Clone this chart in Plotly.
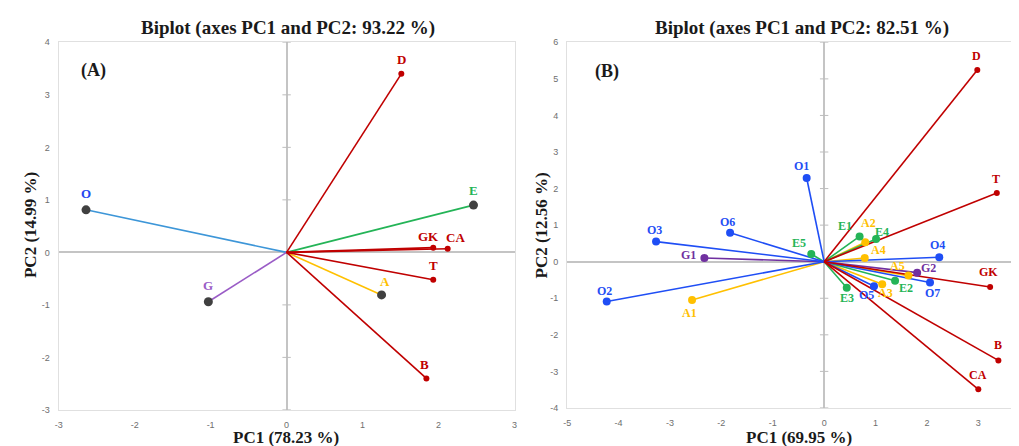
import plotly.graph_objects as go

W, H = 1019, 446

# ---------------- Panel A data ----------------
a_vars = ["D", "GK", "CA", "T", "B"]
a_var_x = [1.51, 1.93, 2.12, 1.93, 1.84]
a_var_y = [3.40, 0.09, 0.07, -0.52, -2.40]

a_obs = ["O", "E", "A", "G"]
a_obs_x = [-2.64, 2.46, 1.25, -1.03]
a_obs_y = [0.81, 0.90, -0.81, -0.94]

a_ticks_x = [-3, -2, -1, 0, 1, 2, 3]
a_ticks_y = [-3, -2, -1, 0, 1, 2, 3, 4]

# ---------------- Panel B data ----------------
b_vars = ["D", "T", "GK", "B", "CA"]
b_var_x = [2.98, 3.36, 3.23, 3.39, 3.00]
b_var_y = [5.24, 1.88, -0.69, -2.70, -3.49]

b_O = ["O1", "O2", "O3", "O4", "O5", "O6", "O7"]
b_O_x = [-0.34, -4.23, -3.27, 2.24, 0.97, -1.83, 2.06]
b_O_y = [2.29, -1.09, 0.55, 0.12, -0.67, 0.79, -0.57]

b_G = ["G1", "G2"]
b_G_x = [-2.33, 1.81]
b_G_y = [0.10, -0.30]

b_A = ["A1", "A2", "A3", "A4", "A5"]
b_A_x = [-2.57, 0.80, 1.13, 0.79, 1.64]
b_A_y = [-1.05, 0.53, -0.62, 0.10, -0.38]

b_E = ["E1", "E2", "E3", "E4", "E5"]
b_E_x = [0.69, 1.38, 0.44, 1.01, -0.25]
b_E_y = [0.69, -0.52, -0.71, 0.62, 0.21]

b_ticks_x = [-5, -4, -3, -2, -1, 0, 1, 2, 3]
b_ticks_y = [-4, -3, -2, -1, 0, 1, 2, 3, 4, 5, 6]

RED = "#c00000"
BLUE = "#1f4ef5"
LBLUE = "#3d96d8"
GREEN = "#24b457"
YELLOW = "#ffc000"
PURPLE = "#7030a0"
GRAY = "#404040"

SERIF = "Liberation Serif"

fig = go.Figure()


def rays(xs, ys):
    X, Y = [], []
    for x, y in zip(xs, ys):
        X += [0, x, None]
        Y += [0, y, None]
    return X, Y


def add_rays(xs, ys, color, xa, ya, width=1.6):
    X, Y = rays(xs, ys)
    fig.add_trace(go.Scatter(x=X, y=Y, mode="lines", line=dict(color=color, width=width),
                             xaxis=xa, yaxis=ya, showlegend=False, hoverinfo="skip"))


def add_pts(xs, ys, color, size, xa, ya):
    fig.add_trace(go.Scatter(x=xs, y=ys, mode="markers",
                             marker=dict(color=color, size=size, line=dict(width=0)),
                             xaxis=xa, yaxis=ya, showlegend=False))


def add_zero_ticks(ticks, xa, ya):
    t = [v for v in ticks if v != 0]
    fig.add_trace(go.Scatter(x=[0] * len(t), y=t, mode="markers",
                             marker=dict(symbol="line-ew", size=6, line=dict(color="#bdbdbd", width=1)),
                             xaxis=xa, yaxis=ya, showlegend=False, hoverinfo="skip"))


# ---- Panel A ----
add_zero_ticks(a_ticks_y, "x", "y")
add_rays(a_obs_x[:1], a_obs_y[:1], LBLUE, "x", "y")
add_rays(a_obs_x[1:2], a_obs_y[1:2], GREEN, "x", "y")
add_rays(a_obs_x[2:3], a_obs_y[2:3], YELLOW, "x", "y")
add_rays(a_obs_x[3:4], a_obs_y[3:4], "#9a5cc6", "x", "y")
add_rays(a_var_x, a_var_y, RED, "x", "y")
add_pts(a_var_x, a_var_y, RED, 6, "x", "y")
add_pts(a_obs_x, a_obs_y, GRAY, 9, "x", "y")

# ---- Panel B ----
add_zero_ticks(b_ticks_y, "x2", "y2")
add_rays(b_A_x, b_A_y, YELLOW, "x2", "y2")
add_rays(b_E_x, b_E_y, GREEN, "x2", "y2")
add_rays(b_G_x, b_G_y, PURPLE, "x2", "y2")
add_rays(b_O_x, b_O_y, BLUE, "x2", "y2")
add_rays(b_var_x, b_var_y, RED, "x2", "y2")
add_pts(b_var_x, b_var_y, RED, 6, "x2", "y2")
add_pts(b_A_x, b_A_y, YELLOW, 8, "x2", "y2")
add_pts(b_E_x, b_E_y, GREEN, 8, "x2", "y2")
add_pts(b_G_x, b_G_y, PURPLE, 8, "x2", "y2")
add_pts(b_O_x, b_O_y, BLUE, 8, "x2", "y2")

ann = []


def label(text, x, y, color, dx, dy, xa, ya, size=11):
    ann.append(dict(text="<b>%s</b>" % text, x=x, y=y, xref=xa, yref=ya, showarrow=False,
                    xshift=dx, yshift=dy, font=dict(family=SERIF, size=size, color=color)))


# panel A labels (pixel offsets)
a_var_off = {"D": (0, 14), "GK": (-5, 11), "CA": (8, 11), "T": (0, 14), "B": (-2, 14)}
for n, x, y in zip(a_vars, a_var_x, a_var_y):
    dx, dy = a_var_off[n]
    label(n, x, y, RED, dx, dy, "x", "y", 13)
a_obs_col = {"O": "#2546f0", "E": GREEN, "A": YELLOW, "G": "#9a5cc6"}
a_obs_off = {"O": (0, 16), "E": (0, 15), "A": (3, 13), "G": (0, 16)}
for n, x, y in zip(a_obs, a_obs_x, a_obs_y):
    dx, dy = a_obs_off[n]
    label(n, x, y, a_obs_col[n], dx, dy, "x", "y", 13)

# panel B labels
b_off = {
    "D": (-1, 14), "T": (-1, 14), "GK": (-2, 15), "B": (0, 15), "CA": (0, 14),
    "O1": (-5, 12), "O2": (-2, 11), "O3": (-2, 12), "O4": (-2, 12), "O5": (-7, -9),
    "O6": (-3, 11), "O7": (2, -10),
    "G1": (-16, 3), "G2": (11, 5),
    "A1": (-3, -13), "A2": (3, 19), "A3": (3, -9), "A4": (14, 8), "A5": (-11, 10),
    "E1": (-15, 10), "E2": (11, -7), "E3": (0, -10), "E4": (6, 7), "E5": (-12, 11),
}
for names, xs, ys, col in [(b_vars, b_var_x, b_var_y, RED), (b_O, b_O_x, b_O_y, BLUE),
                           (b_G, b_G_x, b_G_y, PURPLE), (b_A, b_A_x, b_A_y, YELLOW),
                           (b_E, b_E_x, b_E_y, GREEN)]:
    for n, x, y in zip(names, xs, ys):
        dx, dy = b_off[n]
        label(n, x, y, col, dx, dy, "x2", "y2", 12)


def ptext(text, px, py, size, angle=0):
    ann.append(dict(text="<b>%s</b>" % text, x=px / W, y=1 - py / H, xref="paper", yref="paper",
                    showarrow=False, textangle=angle, xanchor="center", yanchor="middle",
                    font=dict(family=SERIF, size=size, color="#1a1a1a")))


ptext("Biplot (axes PC1 and PC2: 93.22 %)", 278, 15, 19)
ptext("Biplot (axes PC1 and PC2: 82.51 %)", 795, 15, 19)
ptext("(A)", 82, 59, 18)
ptext("(B)", 599, 60, 18)
ptext("PC1 (78.23 %)", 276, 434, 17)
ptext("PC1 (69.95 %)", 792, 434, 17)
ptext("PC2 (14.99 %)", 18, 217, 17, -90)
ptext("PC2 (12.56 %)", 533, 217, 17, -90)

axis_common = dict(showgrid=False, zeroline=True, zerolinecolor="#c4c4c4", zerolinewidth=2,
                   showline=True, linecolor="#e0e0e0", linewidth=1.2, mirror=True,
                   ticks="outside", ticklen=6, tickcolor="rgba(0,0,0,0)",
                   tickfont=dict(family="Liberation Sans", size=9, color="#6e6e6e"),
                   fixedrange=True)


def tt(vals):
    return [str(v) for v in vals]


# pixel-based domains
ax_l, ax_r, ay_t, ay_b = 47, 506, 30, 406
bx_l, bx_r, by_t, by_b = 559, W, 30, 404
b_unit = 51.75
b_xmax = -5 + (bx_r - bx_l) / b_unit

fig.update_layout(
    width=W, height=H, margin=dict(l=0, r=0, t=0, b=0),
    paper_bgcolor="white", plot_bgcolor="white", showlegend=False,
    xaxis=dict(domain=[ax_l / W, ax_r / W], range=[-3, 3], tickvals=a_ticks_x, ticktext=tt(a_ticks_x),
               anchor="y", **axis_common),
    yaxis=dict(domain=[1 - ay_b / H, 1 - ay_t / H], range=[-3, 4], tickvals=a_ticks_y, ticktext=tt(a_ticks_y),
               anchor="x", **axis_common),
    xaxis2=dict(domain=[bx_l / W, 1.0], range=[-5, b_xmax], tickvals=b_ticks_x, ticktext=tt(b_ticks_x),
                anchor="y2", **axis_common),
    yaxis2=dict(domain=[1 - by_b / H, 1 - by_t / H], range=[-4, 6], tickvals=b_ticks_y, ticktext=tt(b_ticks_y),
                anchor="x2", **axis_common),
    annotations=ann,
)

fig.write_html("out.html")
